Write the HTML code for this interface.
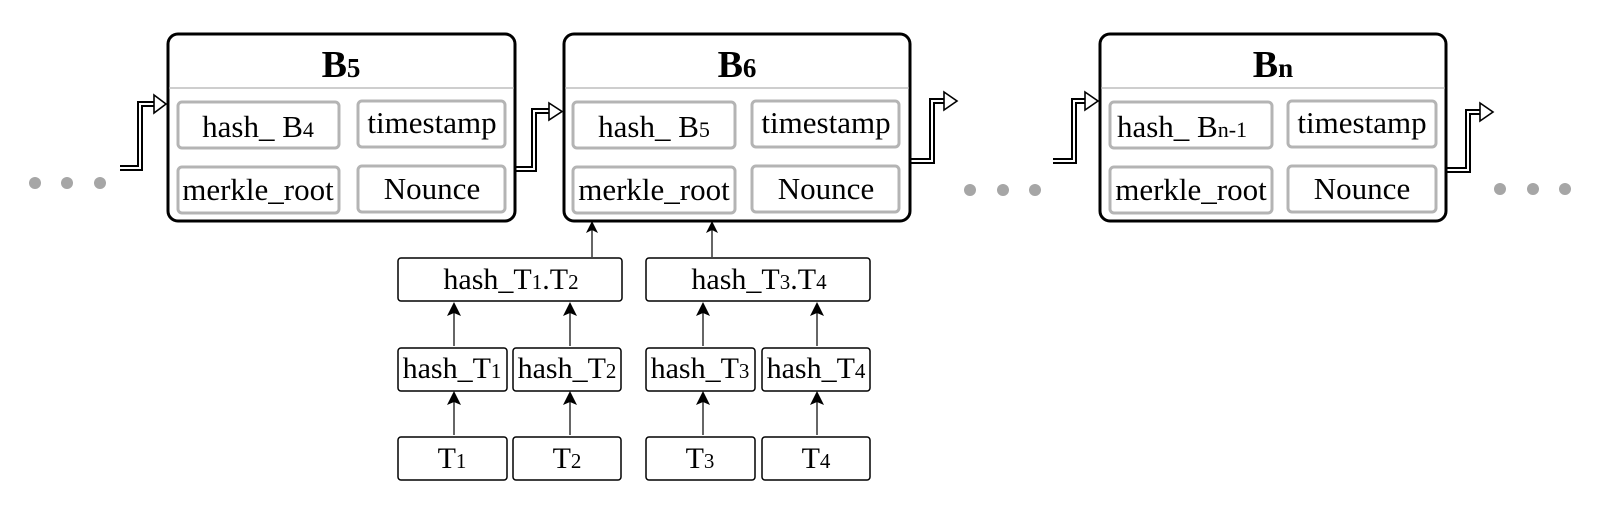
<!DOCTYPE html>
<html><head><meta charset="utf-8"><style>
html,body{margin:0;padding:0;background:#fff;}
svg{display:block;}
text{font-family:"Liberation Serif","Times New Roman",serif;fill:#000;}
</style></head><body>
<svg width="1600" height="523" viewBox="0 0 1600 523" xmlns="http://www.w3.org/2000/svg" font-family="Liberation Serif, serif">
<g fill="#a6a6a6">
<circle cx="35" cy="183" r="6"/><circle cx="67" cy="183" r="6"/><circle cx="100" cy="183" r="6"/>
<circle cx="970" cy="190" r="6"/><circle cx="1003" cy="190" r="6"/><circle cx="1035" cy="190" r="6"/>
<circle cx="1500" cy="189" r="6"/><circle cx="1533" cy="189" r="6"/><circle cx="1565" cy="189" r="6"/>
</g>

<g fill="none" stroke-linejoin="miter">
<g stroke="#000" stroke-width="6">
<path d="M120 168 H140 V104 H156"/>
<path d="M515 169 H534 V111 H550"/>
<path d="M910 161 H932 V101 H946"/>
<path d="M1053 161 H1074 V101 H1088"/>
<path d="M1446 170 H1468 V112 H1482"/>
</g>
<g stroke="#fff" stroke-width="2">
<path d="M119 168 H140 V104 H158"/>
<path d="M515 169 H534 V111 H552"/>
<path d="M911 161 H932 V101 H948"/>
<path d="M1052 161 H1074 V101 H1090"/>
<path d="M1447 170 H1468 V112 H1484"/>
</g>
</g>
<g fill="#fff" stroke="#000" stroke-width="1.6" stroke-linejoin="miter">
<polygon points="154,95 166,104 154,113"/>
<polygon points="549,103 562,111.5 549,120"/>
<polygon points="944,92 957,101 944,110"/>
<polygon points="1085,92 1098,101 1085,110"/>
<polygon points="1480,103 1493,112 1480,121"/>
</g>

<g fill="#fff" stroke="#000" stroke-width="3">
<rect x="168" y="34" width="347" height="187" rx="10"/>
<rect x="564" y="34" width="346" height="187" rx="10"/>
<rect x="1100" y="34" width="346" height="187" rx="10"/>
</g>
<g stroke="#b0b0b0" stroke-width="1.2">
<line x1="169" y1="88" x2="514" y2="88"/>
<line x1="565" y1="88" x2="909" y2="88"/>
<line x1="1101" y1="88" x2="1445" y2="88"/>
</g>
<g fill="#fff" stroke="#b4b4b4" stroke-width="3">
<rect x="178" y="102" width="161" height="46" rx="4"/>
<rect x="358" y="101" width="147" height="46" rx="4"/>
<rect x="178" y="167" width="161" height="46" rx="4"/>
<rect x="358" y="166" width="147" height="46" rx="4"/>
<rect x="573" y="102" width="162" height="46" rx="4"/>
<rect x="752" y="101" width="147" height="46" rx="4"/>
<rect x="573" y="167" width="162" height="46" rx="4"/>
<rect x="752" y="166" width="147" height="46" rx="4"/>
<rect x="1110" y="102" width="162" height="46" rx="4"/>
<rect x="1288" y="101" width="148" height="46" rx="4"/>
<rect x="1110" y="167" width="162" height="46" rx="4"/>
<rect x="1288" y="166" width="148" height="46" rx="4"/>
</g>

<g font-size="38" font-weight="bold" text-anchor="middle">
<text x="341" y="77">B<tspan font-size="27">5</tspan></text>
<text x="737" y="77">B<tspan font-size="27">6</tspan></text>
<text x="1273" y="77">B<tspan font-size="27">n</tspan></text>
</g>
<g font-size="31" text-anchor="middle">
<text x="258" y="137">hash_ B<tspan font-size="22">4</tspan></text>
<text x="432" y="133">timestamp</text>
<text x="258" y="200">merkle_root</text>
<text x="432" y="199">Nounce</text>
<text x="654" y="137">hash_ B<tspan font-size="22">5</tspan></text>
<text x="826" y="133">timestamp</text>
<text x="654" y="200">merkle_root</text>
<text x="826" y="199">Nounce</text>
<text x="1182" y="137">hash_ B<tspan font-size="22">n-1</tspan></text>
<text x="1362" y="133">timestamp</text>
<text x="1191" y="200">merkle_root</text>
<text x="1362" y="199">Nounce</text>
</g>

<g fill="#fff" stroke="#000" stroke-width="1.5">
<rect x="398" y="258" width="224" height="43" rx="3"/>
<rect x="646" y="258" width="224" height="43" rx="3"/>
<rect x="398" y="348" width="109" height="43" rx="3"/>
<rect x="513" y="348" width="108" height="43" rx="3"/>
<rect x="646" y="348" width="109" height="43" rx="3"/>
<rect x="762" y="348" width="108" height="43" rx="3"/>
<rect x="398" y="437" width="109" height="43" rx="3"/>
<rect x="513" y="437" width="108" height="43" rx="3"/>
<rect x="646" y="437" width="109" height="43" rx="3"/>
<rect x="762" y="437" width="108" height="43" rx="3"/>
</g>
<g stroke="#000" stroke-width="1.2">
<line x1="592" y1="257" x2="592" y2="230"/>
<line x1="712" y1="257" x2="712" y2="230"/>
<line x1="454" y1="346" x2="454" y2="312"/>
<line x1="570" y1="346" x2="570" y2="312"/>
<line x1="703" y1="346" x2="703" y2="312"/>
<line x1="817" y1="346" x2="817" y2="312"/>
<line x1="454" y1="435" x2="454" y2="401"/>
<line x1="570" y1="435" x2="570" y2="401"/>
<line x1="703" y1="435" x2="703" y2="401"/>
<line x1="817" y1="435" x2="817" y2="401"/>
</g>
<g fill="#000">
<polygon points="592,221 586,233 592,230 598,233"/>
<polygon points="712,221 706,233 712,230 718,233"/>
<polygon points="454,302 447,316 454,313 461,316"/>
<polygon points="570,302 563,316 570,313 577,316"/>
<polygon points="703,302 696,316 703,313 710,316"/>
<polygon points="817,302 810,316 817,313 824,316"/>
<polygon points="454,391 447,405 454,402 461,405"/>
<polygon points="570,391 563,405 570,402 577,405"/>
<polygon points="703,391 696,405 703,402 710,405"/>
<polygon points="817,391 810,405 817,402 824,405"/>
</g>
<g font-size="30" text-anchor="middle">
<text x="511" y="289">hash_T<tspan font-size="21">1</tspan>.T<tspan font-size="21">2</tspan></text>
<text x="759" y="289">hash_T<tspan font-size="21">3</tspan>.T<tspan font-size="21">4</tspan></text>
<text x="452" y="378">hash_T<tspan font-size="21">1</tspan></text>
<text x="567" y="378">hash_T<tspan font-size="21">2</tspan></text>
<text x="700" y="378">hash_T<tspan font-size="21">3</tspan></text>
<text x="816" y="378">hash_T<tspan font-size="21">4</tspan></text>
<text x="452" y="468">T<tspan font-size="21">1</tspan></text>
<text x="567" y="468">T<tspan font-size="21">2</tspan></text>
<text x="700" y="468">T<tspan font-size="21">3</tspan></text>
<text x="816" y="468">T<tspan font-size="21">4</tspan></text>
</g>
</svg>
</body></html>
